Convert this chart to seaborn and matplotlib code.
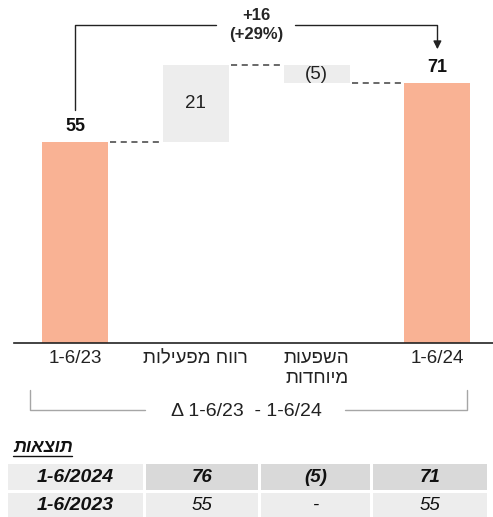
import numpy as np
import pandas as pd
import seaborn as sns
import matplotlib.pyplot as plt
from matplotlib.patches import Rectangle

# Data ########################################################################
categories = ["1-6/23", "רווח מפעילות", "השפעות\nמיוחדות", "1-6/24"]
values = [55, 21, -5, 71]
kinds = ["total", "delta", "delta", "total"]
value_labels = ["55", "21", "(5)", "71"]
change_label = "+16\n(+29%)"
period_label = "Δ 1-6/23  - 1-6/24"

table_title = "תוצאות"
table_rows = ["1-6/2024", "1-6/2023"]
table_vals = [["76", "(5)", "71"], ["55", "-", "55"]]

ORANGE = "#F9B294"
GREY = "#EDEDED"
W, H = 493, 517


def heb(s):
    # matplotlib has no bidi, so flip Hebrew lines by hand
    return "\n".join(l[::-1] if any("\u0590" <= c <= "\u05ff" for c in l) else l
                     for l in s.split("\n"))


sns.set_theme(style="white")
plt.rcParams["font.family"] = ["Liberation Sans", "DejaVu Sans"]

fig = plt.figure(figsize=(W / 100, H / 100), dpi=100)
ax = fig.add_axes([14 / W, 1 - 343 / H, 1 - 14 / W, 343 / H])

# waterfall bottoms / heights
bottoms, heights, run = [], [], 0
for v, k in zip(values, kinds):
    if k == "total":
        bottoms.append(0)
        heights.append(v)
        run = v
    else:
        bottoms.append(min(run, run + v))
        heights.append(abs(v))
        run += v
df = pd.DataFrame({"cat": categories, "h": heights, "b": bottoms})
colors = [ORANGE if k == "total" else GREY for k in kinds]

x = np.arange(len(categories))
bw = 0.545
ax.bar(x, df["h"], bottom=df["b"], width=bw, color=colors, linewidth=0)

ax.set_xlim(-(75 - 14) / 120.8, (493 - 75) / 120.8)
ax.set_ylim(0, 343 / 3.655)

# dashed connectors
for i in range(len(x) - 1):
    y = bottoms[i] + heights[i] if (kinds[i] == "total" or values[i] > 0) else bottoms[i]
    ax.plot([x[i] + bw / 2 + 0.02, x[i + 1] - bw / 2 - 0.02], [y, y],
            color="#404040", lw=1.1, ls=(0, (4, 3)))

# value labels
for i, (lab, k) in enumerate(zip(value_labels, kinds)):
    if k == "total":
        ax.text(x[i], heights[i] + 2.0, lab, ha="center", va="bottom",
                fontsize=13, fontweight="bold", color="#111111")
    else:
        ax.text(x[i], bottoms[i] + heights[i] / 2, lab, ha="center", va="center",
                fontsize=13.5, color="#222222")

# top bracket with arrow
ytop = (343 - 25) / 3.655
ax.plot([x[0], x[0], 1.17], [(343 - 110) / 3.655, ytop, ytop], color="#222222", lw=1,
        clip_on=False)
ax.plot([1.82, x[3], x[3]], [ytop, ytop, (343 - 42) / 3.655], color="#222222", lw=1,
        clip_on=False)
ax.annotate("", xy=(x[3], (343 - 52) / 3.655), xytext=(x[3], (343 - 40) / 3.655),
            arrowprops=dict(arrowstyle="-|>", color="#222222", lw=1, mutation_scale=12))
ax.text(1.5, ytop, change_label, ha="center", va="center",
        fontsize=12, fontweight="bold", linespacing=1.35)

# axes styling
sns.despine(ax=ax, left=True, right=True, top=True)
ax.spines["bottom"].set_color("#222222")
ax.spines["bottom"].set_linewidth(1.2)
ax.set_yticks([])
ax.set_xticks(x)
ax.set_xticklabels([heb(c) for c in categories], fontsize=13.5, color="#222222",
                   linespacing=1.25)
ax.tick_params(axis="x", length=0, pad=5)
ax.set_xlabel("")
ax.set_ylabel("")


# bottom period bracket (figure pixel coords)
def fx(px):
    return px / W


def fy(py):
    return 1 - py / H


br = "#A6A6A6"
fig.add_artist(plt.Line2D([fx(30), fx(30), fx(145)], [fy(390), fy(410), fy(410)],
                          color=br, lw=1))
fig.add_artist(plt.Line2D([fx(345), fx(467), fx(467)], [fy(410), fy(410), fy(390)],
                          color=br, lw=1))
fig.text(fx(246), fy(412), period_label, ha="center", va="center", fontsize=14,
         color="#222222")

# results table
fig.text(fx(13), fy(447), heb(table_title), ha="left", va="center", fontsize=13,
         fontweight="bold", style="italic", color="#111111")
fig.add_artist(plt.Line2D([fx(13), fx(72)], [fy(456), fy(456)], color="#111111", lw=1))

col_edges = [(8, 143), (146, 258), (261, 370), (373, 487)]
row_edges = [(464, 490), (493, 517)]
for r, (y0, y1) in enumerate(row_edges):
    cells = [table_rows[r]] + table_vals[r]
    for c, (x0, x1) in enumerate(col_edges):
        fc = "#D9D9D9" if (r == 0 and c > 0) else GREY
        fig.add_artist(Rectangle((fx(x0), fy(y1)), fx(x1 - x0), (y1 - y0) / H,
                                 facecolor=fc, edgecolor="none"))
        bold = r == 0 or c == 0
        fig.text(fx((x0 + x1) / 2), fy((y0 + y1) / 2), cells[c], ha="center",
                 va="center", fontsize=14 if c == 0 else 13.5, style="italic",
                 fontweight="bold" if bold else "normal", color="#111111")

fig.savefig("out.png", dpi=100)
